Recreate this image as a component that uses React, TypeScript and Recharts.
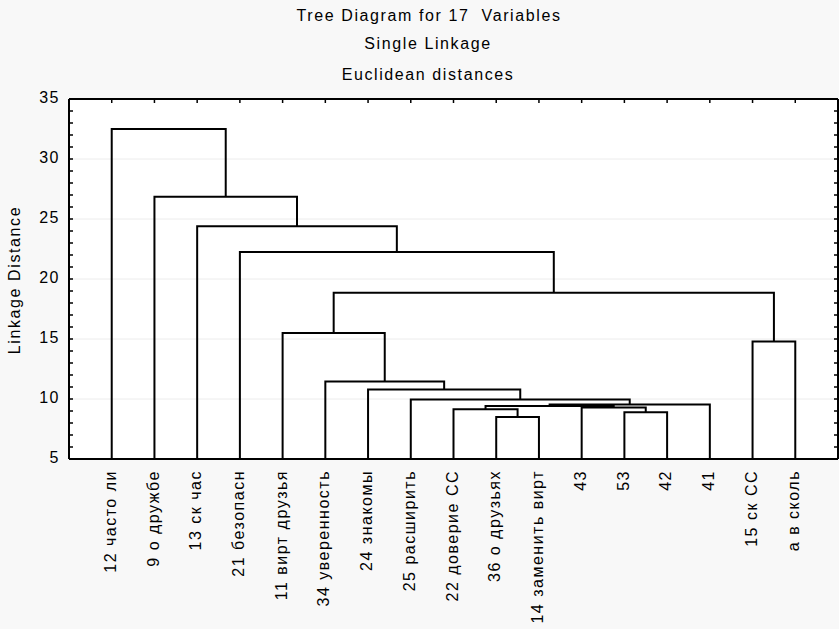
import { ComposedChart, Line, XAxis, YAxis, CartesianGrid, Customized } from "recharts";

const leafLabels = [
  "12 часто ли",
  "9 о дружбе",
  "13 ск час",
  "21 безопасн",
  "11 вирт друзья",
  "34 уверенность",
  "24 знакомы",
  "25 расширить",
  "22 доверие СС",
  "36 о друзьях",
  "14 заменить вирт",
  "43",
  "53",
  "42",
  "41",
  "15 ск СС",
  "а в сколь",
];

// joins in order; ids 0..16 are leaves, 17+ are the clusters made by earlier joins
const mergeLeft = [9, 12, 8, 11, 19, 21, 7, 6, 5, 15, 4, 27, 3, 2, 1, 0];
const mergeRight = [10, 13, 17, 18, 20, 14, 22, 23, 24, 16, 25, 26, 28, 29, 30, 31];
const mergeHeight = [8.5, 8.9, 9.15, 9.3, 9.42, 9.55, 9.95, 10.8, 11.45, 14.8, 15.5, 18.85, 22.25, 24.4, 26.85, 32.5];

const yMajorTicks = [5, 10, 15, 20, 25, 30, 35];
const yMinorTicks = [5, 6, 7, 8, 9, 10, 11, 12, 13, 14, 15, 16, 17, 18, 19, 20, 21, 22, 23, 24, 25, 26, 27, 28, 29, 30, 31, 32, 33, 34, 35];
const xTicks = [1, 2, 3, 4, 5, 6, 7, 8, 9, 10, 11, 12, 13, 14, 15, 16, 17];
const yDomain = [5, 35];
const xDomain = [0, 18];

const FONT = '"Liberation Sans", Arial, sans-serif';

function buildLinks() {
  const pos: number[] = leafLabels.map((_, i) => i + 1);
  const height: number[] = leafLabels.map(() => yDomain[0]);
  const links: { x: number; y: number }[][] = [];
  mergeHeight.forEach((h, k) => {
    const l = mergeLeft[k];
    const r = mergeRight[k];
    links.push([
      { x: pos[l], y: height[l] },
      { x: pos[l], y: h },
      { x: pos[r], y: h },
      { x: pos[r], y: height[r] },
    ]);
    pos.push((pos[l] + pos[r]) / 2);
    height.push(h);
  });
  return links;
}

const links = buildLinks();
// invisible span so the frame axes get a domain of their own
const frameSpan = [
  { x: xDomain[0], y: yDomain[0] },
  { x: xDomain[1], y: yDomain[1] },
];

const LeafTick = (props: any) => {
  const { x, y, payload } = props;
  const label = leafLabels[payload.value - 1];
  return (
    <text
      x={x}
      y={y}
      dy="0.26em"
      transform={`rotate(-90 ${x} ${y})`}
      textAnchor="end"
      fontSize={16}
      fontFamily={FONT}
      letterSpacing={1.5}
      fill="#000"
    >
      {label}
    </text>
  );
};

const ValueTick = (props: any) => {
  const { x, y, payload } = props;
  return (
    <text
      x={x}
      y={y}
      dy="0.26em"
      textAnchor="end"
      fontSize={16}
      fontFamily={FONT}
      letterSpacing={1.5}
      fill="#000"
    >
      {payload.value}
    </text>
  );
};

// frame axes: tick marks only, no labels
const NoLabel = () => <g />;

const Titles = () => (
  <g fontFamily={FONT} fontSize={16} letterSpacing={1.6} fill="#000">
    <text x={429} y={21} textAnchor="middle">
      {"Tree Diagram for 17\u00a0 Variables"}
    </text>
    <text x={428} y={49} textAnchor="middle">
      Single Linkage
    </text>
    <text x={428} y={80} textAnchor="middle">
      Euclidean distances
    </text>
    <text x={20} y={280} textAnchor="middle" transform="rotate(-90 20 280)">
      Linkage Distance
    </text>
  </g>
);

export default function App() {
  const frame = { stroke: "#000", strokeWidth: 2 };
  const tickStroke = { stroke: "#000", strokeWidth: 1.5 };
  return (
    <div style={{ position: "absolute", left: 0, top: 0, background: "#f8f8f8" }}>
      <ComposedChart width={839} height={629} margin={{ top: 99, right: 1, bottom: 0, left: 0 }}>
        <CartesianGrid
          xAxisId="x"
          yAxisId="y"
          vertical={false}
          stroke="#ececec"
          fill="#fff"
        />
        <XAxis
          xAxisId="x"
          type="number"
          dataKey="x"
          domain={xDomain}
          ticks={xTicks}
          allowDataOverflow
          height={170}
          tickLine={false}
          tickSize={0}
          tickMargin={11}
          axisLine={frame}
          tick={<LeafTick />}
          interval={0}
        />
        <XAxis
          xAxisId="xt"
          type="number"
          dataKey="x"
          orientation="top"
          mirror
          domain={xDomain}
          ticks={xTicks}
          allowDataOverflow
          tick={<NoLabel />}
          tickSize={4}
          tickLine={tickStroke}
          axisLine={frame}
          interval={0}
        />
        <YAxis
          yAxisId="y"
          type="number"
          domain={yDomain}
          ticks={yMajorTicks}
          allowDataOverflow
          width={69}
          tickLine={false}
          tickSize={0}
          tickMargin={9}
          axisLine={frame}
          tick={<ValueTick />}
          interval={0}
        />
        <YAxis
          yAxisId="yl"
          type="number"
          dataKey="y"
          mirror
          domain={yDomain}
          ticks={yMinorTicks}
          allowDataOverflow
          tick={<NoLabel />}
          tickSize={4}
          tickLine={tickStroke}
          axisLine={false}
          interval={0}
        />
        <YAxis
          yAxisId="yr"
          type="number"
          dataKey="y"
          orientation="right"
          mirror
          domain={yDomain}
          ticks={yMinorTicks}
          allowDataOverflow
          tick={<NoLabel />}
          tickSize={4}
          tickLine={tickStroke}
          axisLine={frame}
          interval={0}
        />
        <Line
          xAxisId="xt"
          yAxisId="yl"
          data={frameSpan}
          dataKey="y"
          stroke="none"
          dot={false}
          activeDot={false}
          isAnimationActive={false}
        />
        <Line
          xAxisId="xt"
          yAxisId="yr"
          data={frameSpan}
          dataKey="y"
          stroke="none"
          dot={false}
          activeDot={false}
          isAnimationActive={false}
        />
        {links.map((seg, i) => (
          <Line
            key={i}
            xAxisId="x"
            yAxisId="y"
            data={seg}
            dataKey="y"
            type="linear"
            stroke="#000"
            strokeWidth={2}
            dot={false}
            activeDot={false}
            isAnimationActive={false}
            strokeLinejoin="miter"
          />
        ))}
        <Customized component={<Titles />} />
      </ComposedChart>
    </div>
  );
}
